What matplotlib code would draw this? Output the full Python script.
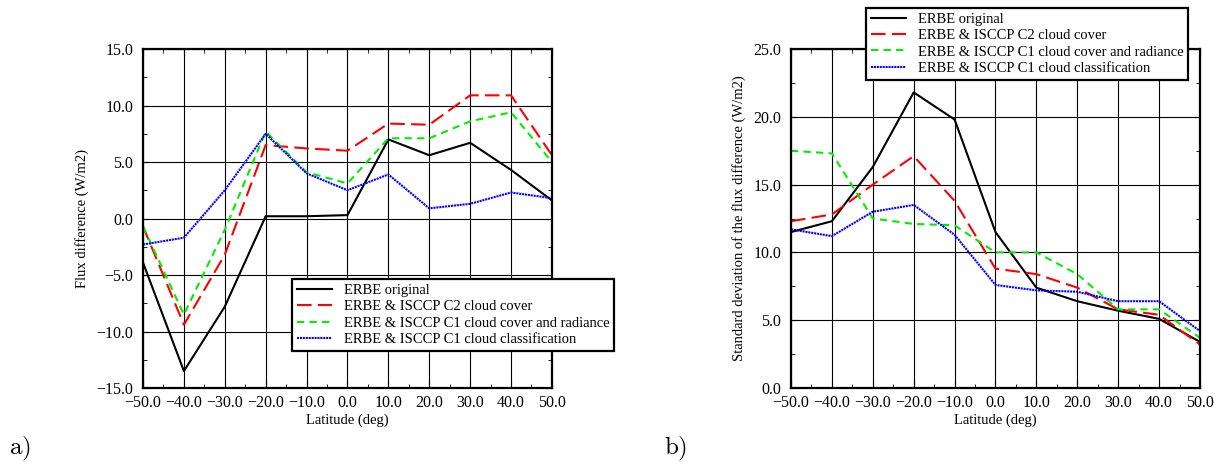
import matplotlib
matplotlib.use("Agg")
import matplotlib.pyplot as plt
from matplotlib.ticker import MultipleLocator, FuncFormatter

# latitude bins
lat = [-50, -40, -30, -20, -10, 0, 10, 20, 30, 40, 50]

# a) flux difference (W/m2)
a_erbe = [-3.9, -13.5, -7.8, 0.2, 0.2, 0.3, 7.0, 5.6, 6.7, 4.3, 1.6]
a_c2 = [-0.7, -9.4, -3.2, 6.5, 6.2, 6.0, 8.4, 8.3, 10.9, 10.9, 5.6]
a_c1rad = [-0.7, -8.5, -1.0, 7.7, 4.1, 3.1, 7.1, 7.1, 8.6, 9.4, 5.0]
a_c1cls = [-2.3, -1.7, 2.5, 7.5, 4.0, 2.5, 3.9, 0.9, 1.3, 2.3, 1.8]

# b) standard deviation of the flux difference (W/m2)
b_erbe = [11.5, 12.3, 16.3, 21.8, 19.8, 11.5, 7.4, 6.4, 5.7, 5.1, 3.4]
b_c2 = [12.3, 12.8, 15.0, 17.1, 13.8, 8.8, 8.4, 7.4, 5.8, 5.4, 3.2]
b_c1rad = [17.5, 17.3, 12.5, 12.1, 12.0, 10.0, 10.0, 8.4, 5.8, 5.8, 3.7]
b_c1cls = [11.7, 11.2, 13.0, 13.5, 11.3, 7.6, 7.2, 7.1, 6.4, 6.4, 4.2]

labels = ["ERBE original", "ERBE & ISCCP C2 cloud cover",
          "ERBE & ISCCP C1 cloud cover and radiance",
          "ERBE & ISCCP C1 cloud classification"]

plt.rcParams['font.family'] = ['Liberation Serif', 'DejaVu Serif']
plt.rcParams['font.size'] = 10.5
plt.rcParams['mathtext.fontset'] = 'cm'

fig = plt.figure(figsize=(12.16, 4.69), dpi=100)
ax1 = fig.add_axes([0.1176, 0.1727, 0.3363, 0.7228])
ax2 = fig.add_axes([0.6505, 0.1727, 0.3363, 0.7228])

fmt = FuncFormatter(lambda v, p: f"{v:.1f}".replace('-', '\u2212'))


def draw(ax, series, ylim, ylabel):
    styles = [dict(color='black', linestyle='-'),
              dict(color='red', linestyle=(0, (7, 3))),
              dict(color='#00ee00', linestyle=(0, (3.5, 2.5))),
              dict(color='blue', linestyle=(0, (1, 0.4)))]
    for s, lab, st in zip(series, labels, styles):
        ax.plot(lat, s, linewidth=1.5, label=lab, **st)
    ax.set_xlim(-50, 50)
    ax.set_ylim(*ylim)
    ax.xaxis.set_major_locator(MultipleLocator(10))
    ax.xaxis.set_minor_locator(MultipleLocator(5))
    ax.yaxis.set_major_locator(MultipleLocator(5))
    ax.yaxis.set_minor_locator(MultipleLocator(2.5))
    ax.xaxis.set_major_formatter(fmt)
    ax.yaxis.set_major_formatter(fmt)
    ax.tick_params(which='both', direction='in', top=True, right=True,
                   labelsize=11.5)
    ax.tick_params(which='major', length=5)
    ax.tick_params(which='minor', length=3)
    ax.tick_params(axis='y', pad=7)
    ax.tick_params(axis='x', pad=5)
    ax.grid(True, which='major', color='black', linewidth=0.8)
    for sp in ax.spines.values():
        sp.set_linewidth(1.6)
    ax.set_xlabel('Latitude (deg)', labelpad=2)
    ax.set_ylabel(ylabel, labelpad=5)


draw(ax1, [a_erbe, a_c2, a_c1rad, a_c1cls], (-15, 15), 'Flux difference (W/m2)')
draw(ax2, [b_erbe, b_c2, b_c1rad, b_c1cls], (0, 25),
     'Standard deviation of the flux difference (W/m2)')

for ax, anchor in [(ax1, (0.2401, 0.405)), (ax2, (0.712, 0.983))]:
    leg = ax.legend(loc='upper left', bbox_to_anchor=anchor,
                    bbox_transform=fig.transFigure, borderaxespad=0,
                    fancybox=False, framealpha=1, edgecolor='black',
                    handlelength=2.4, labelspacing=0.2, borderpad=0.35,
                    handletextpad=0.8)
    leg.get_frame().set_linewidth(1.6)
    leg.set_zorder(5)

fig.text(0.007, 0.03, r'$\mathrm{a)}$', fontsize=18)
fig.text(0.546, 0.03, r'$\mathrm{b)}$', fontsize=18)

fig.savefig('out.png', dpi=100)
